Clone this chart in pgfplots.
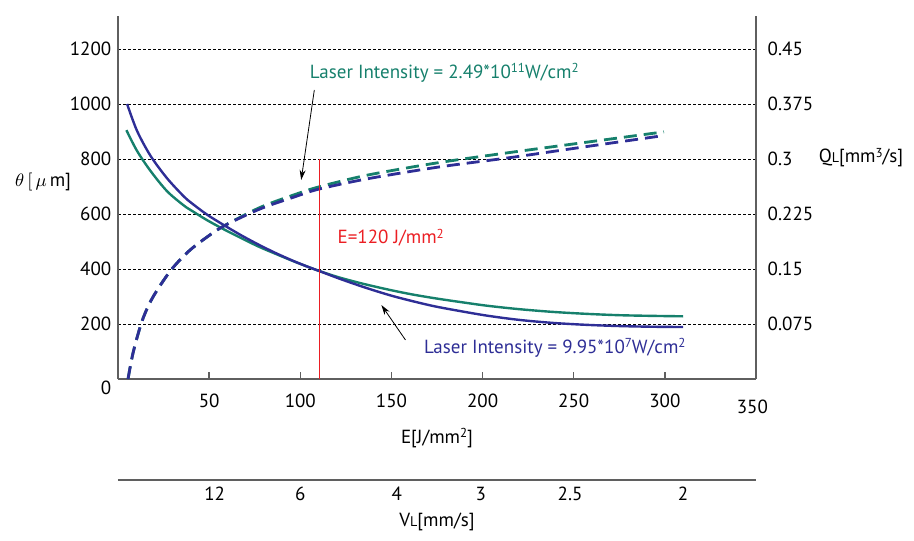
\documentclass[border=0pt]{standalone}
\usepackage{pgfplots}
\pgfplotsset{compat=1.18}
\usepackage{fontspec}
\setmainfont{PT Sans}
\usetikzlibrary{arrows.meta}
\definecolor{tealc}{RGB}{22,128,108}
\definecolor{bluec}{RGB}{46,46,150}
\definecolor{redc}{RGB}{235,30,35}
\definecolor{axc}{RGB}{95,95,95}
\newcommand{\supx}[1]{\raisebox{0.55ex}{\fontsize{6.5}{7}\selectfont #1}}

\pgfplotsset{
  base/.style={
    width=319pt, height=181.5pt, scale only axis,
    xmin=0, xmax=350, clip=false,
    axis line style={axc, line width=0.7pt},
    x axis line style={-}, y axis line style={-},
    tick style={axc, line width=0.7pt},
    tick label style={font=\fontsize{9.5}{11}\selectfont},
    label style={font=\fontsize{9.5}{11}\selectfont},
    /pgf/number format/assume math mode=true,
  },
}

\begin{document}
\fontsize{9.5}{11}\selectfont
\begin{tikzpicture}

% theta (left axis)
\begin{axis}[base,
  ymin=0, ymax=1320,
  axis x line*=bottom, axis y line*=left,
  xtick={50,100,150,200,250,300}, xticklabels={50,100,150,200,250,300},
  tick align=inside, major tick length=3.5pt,
  xticklabel style={yshift=-4pt},
  ytick={200,400,600,800,1000,1200}, yticklabels={200,400,600,800,1000,1200},
  ytick style={draw=none},
  ymajorgrids, grid style={black, line width=0.4pt, dash pattern=on 1.5pt off 1pt},
  every axis x label/.style={at={(axis description cs:0.5,0)}, anchor=center, yshift=-29.5pt},
  xlabel={E[J/mm\supx{2}]},
  every axis y label/.style={at={(axis description cs:0,0.543)}, anchor=center, xshift=-37.5pt},
  ylabel={$\theta\,[\,\mu\,$m]},
]
\addplot[tealc, line width=1.2pt, smooth] coordinates {
 (4.6,905) (10.4,830) (17.8,757) (26.9,683) (36.1,631) (40.7,611) (49,577)
 (59,541) (68,511) (77.3,481) (86.5,455) (95.6,430) (103,411) (110.3,393)
 (121,370) (132.2,350) (141,336) (150.5,322) (161,308) (172.5,295) (183.5,284)
 (201.8,267) (220,254) (238.5,244) (256.8,237) (275,232) (293.4,229.5) (310,228)};
\addplot[bluec, line width=1.2pt, smooth] coordinates {
 (5,1000) (10.4,903) (17.8,812) (26.9,730) (36.1,664) (40.7,638) (49,597)
 (59,556) (68,521) (77.3,488) (86.5,458) (95.6,431) (103,411) (110.3,393)
 (121,366) (132.2,340) (141,321) (150.5,302) (161,284) (172.5,266) (183.5,252)
 (201.8,231) (220,215) (238.5,204) (256.8,197) (275,192.5) (293.4,190) (310,189)};

\node[tealc] at (axis cs:179,1113) {Laser Intensity = 2.49*10\supx{11}W/cm\supx{2}};
\node[bluec] at (axis cs:239.6,113) {Laser Intensity = 9.95*10\supx{7}W/cm\supx{2}};
\node[redc, anchor=west, inner sep=0pt] at (axis cs:120.3,513) {E=120 J/mm\supx{2}};
\draw[-{Stealth[length=5pt,width=3pt]}, line width=0.4pt] (axis cs:107.7,1051) -- (axis cs:100.5,724);
\draw[-{Stealth[length=5pt,width=3pt]}, line width=0.4pt] (axis cs:157.7,142) -- (axis cs:144.5,269);
\node at (axis cs:-6.6,-33) {0};
\node at (axis cs:348,-102) {350};
\end{axis}

% Q_L (right axis)
\begin{axis}[base,
  ymin=0, ymax=0.495,
  axis x line=none, axis y line*=right,
  ytick={0.075,0.15,0.225,0.3,0.375,0.45},
  yticklabels={0.075,0.15,0.225,0.3,0.375,0.45},
  ytick style={draw=none},
  yticklabel style={xshift=2.5pt},
  every axis y label/.style={at={(axis description cs:1,0.609)}, anchor=center, xshift=52.5pt},
  ylabel={Q{\fontsize{7}{8}\selectfont L}[mm\supx{3}/s]},
]
\addplot[tealc, line width=1.4pt, smooth, dash pattern=on 6.5pt off 3.5pt] coordinates {
 (5.5,0) (8.3,0.036) (13.2,0.079) (19,0.111) (28.9,0.148) (38.7,0.174)
 (48.5,0.193) (58.3,0.209) (78,0.234) (97.6,0.252) (110.3,0.262) (136.8,0.278)
 (175.8,0.295) (215.4,0.309) (254.4,0.322) (299.5,0.337)};
\addplot[bluec, line width=1.4pt, smooth, dash pattern=on 6.5pt off 3.5pt] coordinates {
 (5.5,0) (8.3,0.036) (13.2,0.079) (19,0.111) (28.9,0.148) (38.7,0.174)
 (48.5,0.193) (58.3,0.209) (78,0.232) (97.6,0.249) (110.3,0.259) (136.8,0.273)
 (175.8,0.289) (215.4,0.302) (254.4,0.316) (299.5,0.332)};
% E = 120 J/mm^2 marker (theta 0..800 = Q 0..0.3)
\addplot[draw=redc, line width=0.8pt, forget plot] coordinates {(110.5,0) (110.5,0.3)};
\end{axis}

% V_L scale below
\begin{axis}[
  at={(0pt,-50.5pt)}, width=319pt, height=10pt, scale only axis,
  xmin=0, xmax=350, ymin=0, ymax=1,
  axis x line*=bottom, axis y line=none,
  axis line style={axc, line width=0.7pt}, x axis line style={-},
  xtick={53,100,153,199,248,310}, xticklabels={12,6,4,3,2.5,2},
  major tick length=0pt,
  tick label style={font=\fontsize{9.5}{11}\selectfont},
  every axis x label/.style={at={(axis description cs:0.5,0)}, anchor=center, yshift=-21pt},
  xlabel={V{\fontsize{7}{8}\selectfont L}[mm/s]},
]
\end{axis}

\pgfresetboundingbox
\path[use as bounding box] (-59pt,-80.5pt) rectangle (398pt,189.5pt);
\end{tikzpicture}
\end{document}
